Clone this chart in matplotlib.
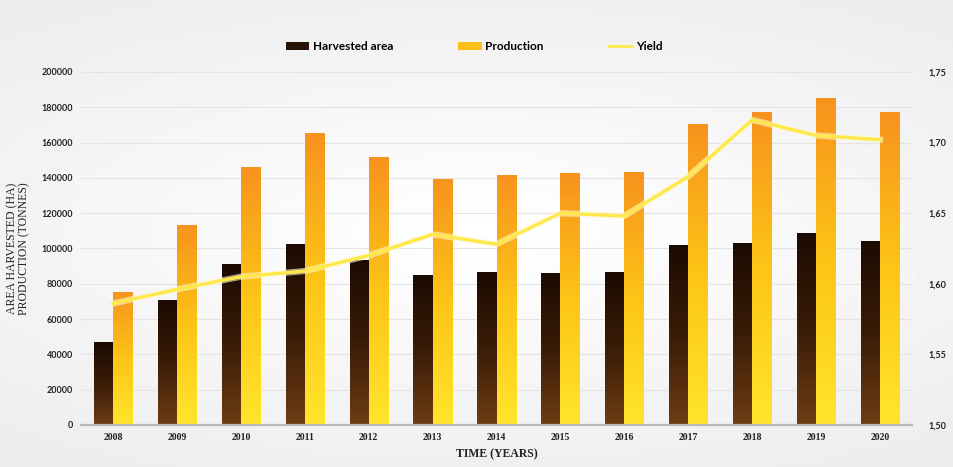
import numpy as np
import matplotlib
matplotlib.use("Agg")
import matplotlib.pyplot as plt
from matplotlib.colors import LinearSegmentedColormap
from matplotlib.patches import Patch
from matplotlib.lines import Line2D
import matplotlib.patheffects as pe

years = ["2008", "2009", "2010", "2011", "2012", "2013", "2014",
         "2015", "2016", "2017", "2018", "2019", "2020"]
harvested_area = [47000, 70300, 90700, 102000, 93000, 84500, 86200,
                  86000, 86300, 101500, 103000, 108200, 103800]
production = [74800, 112800, 145700, 164900, 151500, 138800, 141600,
              142300, 143300, 170500, 176800, 184700, 177300]
yield_ha = [1.586, 1.596, 1.605, 1.609, 1.620, 1.635, 1.628,
            1.650, 1.648, 1.676, 1.716, 1.705, 1.702]

left_ticks = list(range(0, 200001, 20000))
right_ticks = [1.50, 1.55, 1.60, 1.65, 1.70, 1.75]

dark_cmap = LinearSegmentedColormap.from_list("dark", ["#6e3d14", "#3a1c07", "#1c0b02"])
gold_cmap = LinearSegmentedColormap.from_list("gold", ["#ffe52c", "#fdc516", "#f7931e"])

fig = plt.figure(figsize=(9.54, 4.67), dpi=100)

# soft grey background
bg = fig.add_axes([0, 0, 1, 1], zorder=-10)
gx, gy = np.meshgrid(np.linspace(-1, 1, 200), np.linspace(-1, 1, 100))
shade = 1 - 0.05 * np.clip(np.sqrt((gx * 0.9) ** 2 + (gy * 1.2) ** 2), 0, 1.4)
bg.imshow(shade, cmap="gray", vmin=0, vmax=1, aspect="auto", extent=[0, 1, 0, 1])
bg.axis("off")

ax = fig.add_axes([0.085, 0.09, 0.871, 0.756])
ax.patch.set_alpha(0)

x = np.arange(len(years))
w = 0.3
grad = np.linspace(0, 1, 256).reshape(-1, 1)

b1 = ax.bar(x - w / 2, harvested_area, w, color="none", zorder=2)
b2 = ax.bar(x + w / 2, production, w, color="none", zorder=2)
for bars, cm in ((b1, dark_cmap), (b2, gold_cmap)):
    for b in bars:
        x0, h, bw = b.get_x(), b.get_height(), b.get_width()
        ax.imshow(grad, cmap=cm, origin="lower", aspect="auto",
                  extent=[x0, x0 + bw, 0, h], zorder=2)

ax.set_xlim(-0.5, len(years) - 0.5)
ax.set_ylim(0, 200000)
ax.set_yticks(left_ticks)
ax.set_yticklabels([str(v) for v in left_ticks], fontsize=6.5,
                   fontweight="bold", family="Lato", color="#222222")
ax.set_xticks(x)
ax.set_xticklabels(years, fontsize=7, fontweight="bold",
                   family="Liberation Serif", color="#222222")
ax.tick_params(length=0, pad=6)
ax.grid(axis="y", color="#e4e4e4", lw=0.8, zorder=0)
ax.set_axisbelow(True)
for s in ("top", "right", "left"):
    ax.spines[s].set_visible(False)
ax.spines["bottom"].set_color("#b8b8b8")
ax.spines["bottom"].set_linewidth(1.6)
ax.spines["bottom"].set_zorder(3)

ax.set_xlabel("TIME (YEARS)", fontsize=8.5, fontweight="bold",
              family="Liberation Serif", color="#222222", labelpad=4)
ax.set_ylabel("AREA HARVESTED (HA)\nPRODUCTION (TONNES)", fontsize=8.5,
              family="Liberation Serif", color="#222222", labelpad=8,
              linespacing=1.0)

ax2 = ax.twinx()
ax2.plot(x, yield_ha, color="#ffe84a", lw=2.4, zorder=5,
         path_effects=[pe.Stroke(linewidth=4.5, foreground="#fff8d0", alpha=0.6), pe.Normal()])
ax2.set_ylim(1.50, 1.75)
ax2.set_yticks(right_ticks)
ax2.set_yticklabels([f"{v:.2f}".replace(".", ",") for v in right_ticks],
                    fontsize=6.5, fontweight="bold", family="Lato", color="#222222")
ax2.tick_params(length=0, pad=12)
for s in ax2.spines.values():
    s.set_visible(False)

handles = [Patch(facecolor="#2a1406", label="Harvested area"),
           Patch(facecolor="#fdc21a", label="Production"),
           Line2D([0], [0], color="#ffe84a", lw=2, label="Yield")]
leg = fig.legend(handles=handles, loc="center", bbox_to_anchor=(0.497, 0.9),
                 ncol=3, frameon=False, handlelength=2.0, handleheight=0.55,
                 handletextpad=0.3, columnspacing=5.5,
                 prop={"family": "Lato", "weight": "bold", "size": 8.5})

fig.savefig("out.png", dpi=100)
